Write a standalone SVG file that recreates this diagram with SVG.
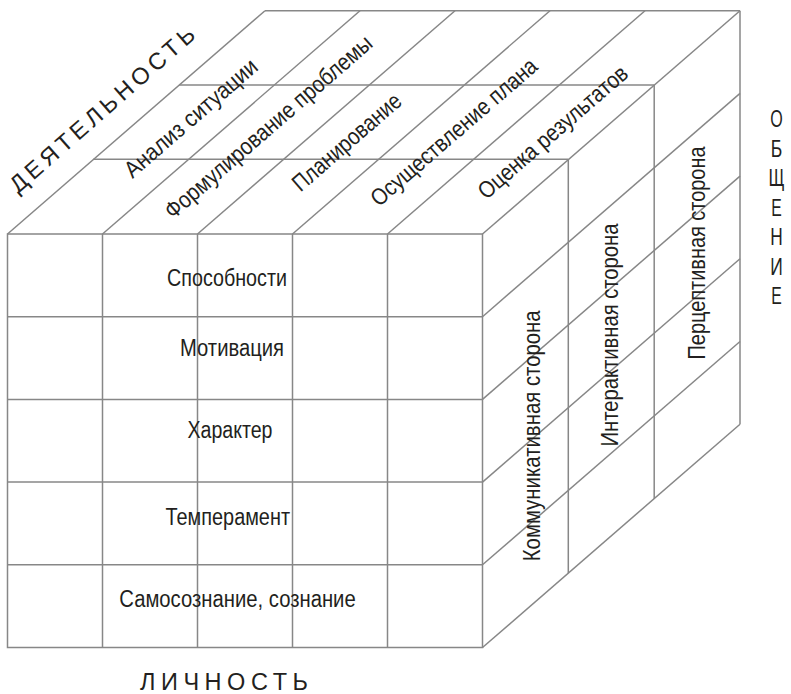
<svg xmlns="http://www.w3.org/2000/svg" width="791" height="694" viewBox="0 0 791 694">
<style>
.ln{stroke:#878787;stroke-width:1.5;fill:none;}
.t{font-family:"Liberation Sans Narrow","Liberation Sans",Arial,sans-serif;font-size:23.5px;fill:#231f20;}
</style>
<rect width="791" height="694" fill="#ffffff"/>
<g id="connectors">
<g id="front-face" class="ln">
<rect x="7.5" y="234" width="475" height="413.5"/>
<line x1="102.5" y1="234" x2="102.5" y2="647.5"/>
<line x1="197.5" y1="234" x2="197.5" y2="647.5"/>
<line x1="292.5" y1="234" x2="292.5" y2="647.5"/>
<line x1="387.5" y1="234" x2="387.5" y2="647.5"/>
<line x1="7.5" y1="316.7" x2="482.5" y2="316.7"/>
<line x1="7.5" y1="399.4" x2="482.5" y2="399.4"/>
<line x1="7.5" y1="482.1" x2="482.5" y2="482.1"/>
<line x1="7.5" y1="564.8" x2="482.5" y2="564.8"/>
</g>
<g id="top-face" class="ln">
<line x1="7.5" y1="234" x2="265" y2="10.7"/>
<line x1="102.5" y1="234" x2="360" y2="10.7"/>
<line x1="197.5" y1="234" x2="455" y2="10.7"/>
<line x1="292.5" y1="234" x2="550" y2="10.7"/>
<line x1="387.5" y1="234" x2="645" y2="10.7"/>
<line x1="482.5" y1="234" x2="740" y2="10.7"/>
<line x1="265" y1="10.7" x2="740" y2="10.7"/>
<line x1="93.3" y1="159.3" x2="568.3" y2="159.3"/>
<line x1="179.2" y1="85" x2="654.2" y2="85"/>
</g>
<g id="right-face" class="ln">
<line x1="568.3" y1="159.3" x2="568.3" y2="573.1"/>
<line x1="654.2" y1="85" x2="654.2" y2="498.7"/>
<line x1="740" y1="10.7" x2="740" y2="424.2"/>
<line x1="482.5" y1="316.7" x2="740" y2="93.4"/>
<line x1="482.5" y1="399.4" x2="740" y2="176.1"/>
<line x1="482.5" y1="482.1" x2="740" y2="258.8"/>
<line x1="482.5" y1="564.8" x2="740" y2="341.5"/>
<line x1="482.5" y1="647.5" x2="740" y2="424.2"/>
</g>
</g>
<g id="personality-labels" class="t">
<text x="167" y="286" textLength="120" lengthAdjust="spacingAndGlyphs">Способности</text>
<text x="180" y="355.7" textLength="104" lengthAdjust="spacingAndGlyphs">Мотивация</text>
<text x="187.5" y="438.3" textLength="85" lengthAdjust="spacingAndGlyphs">Характер</text>
<text x="165.5" y="525" textLength="124.5" lengthAdjust="spacingAndGlyphs">Темперамент</text>
<text x="119.3" y="606.7" textLength="236.4" lengthAdjust="spacingAndGlyphs">Самосознание, сознание</text>
</g>
<g id="activity-labels" class="t">
<text transform="translate(196,124) rotate(-40.9)" text-anchor="middle" textLength="168" lengthAdjust="spacingAndGlyphs">Анализ ситуации</text>
<text transform="translate(273.6,132.8) rotate(-40.9)" text-anchor="middle" textLength="266" lengthAdjust="spacingAndGlyphs">Формулирование проблемы</text>
<text transform="translate(352,148) rotate(-40.9)" text-anchor="middle" textLength="136" lengthAdjust="spacingAndGlyphs">Планирование</text>
<text transform="translate(459,138) rotate(-40.9)" text-anchor="middle" textLength="212" lengthAdjust="spacingAndGlyphs">Осуществление плана</text>
<text transform="translate(558,138) rotate(-40.9)" text-anchor="middle" textLength="190" lengthAdjust="spacingAndGlyphs">Оценка результатов</text>
</g>
<g id="communication-labels" class="t">
<text transform="translate(540,435.8) rotate(-90)" text-anchor="middle" textLength="251" lengthAdjust="spacingAndGlyphs">Коммуникативная сторона</text>
<text transform="translate(618,335) rotate(-90)" text-anchor="middle" textLength="223" lengthAdjust="spacingAndGlyphs">Интерактивная сторона</text>
<text transform="translate(705,253) rotate(-90)" text-anchor="middle" textLength="213" lengthAdjust="spacingAndGlyphs">Перцептивная сторона</text>
</g>
<g id="axis-activity" class="t">
<text transform="translate(107.5,115.5) rotate(-41.3)" text-anchor="middle" textLength="238" lengthAdjust="spacing">ДЕЯТЕЛЬНОСТЬ</text>
</g>
<g id="axis-personality" class="t">
<text x="140" y="690" textLength="168" lengthAdjust="spacing">ЛИЧНОСТЬ</text>
</g>
<g id="axis-communication" class="t" text-anchor="middle" style="font-size:24px">
<text x="776.5" y="127.3" textLength="12.5" lengthAdjust="spacingAndGlyphs">О</text>
<text x="776.5" y="156.8" textLength="11.5" lengthAdjust="spacingAndGlyphs">Б</text>
<text x="776.5" y="186.3" textLength="16" lengthAdjust="spacingAndGlyphs">Щ</text>
<text x="776.5" y="215.8" textLength="10.5" lengthAdjust="spacingAndGlyphs">Е</text>
<text x="776.5" y="245.3" textLength="12.5" lengthAdjust="spacingAndGlyphs">Н</text>
<text x="776.5" y="274.8" textLength="12.5" lengthAdjust="spacingAndGlyphs">И</text>
<text x="776.5" y="304.3" textLength="10.5" lengthAdjust="spacingAndGlyphs">Е</text>
</g>
</svg>
